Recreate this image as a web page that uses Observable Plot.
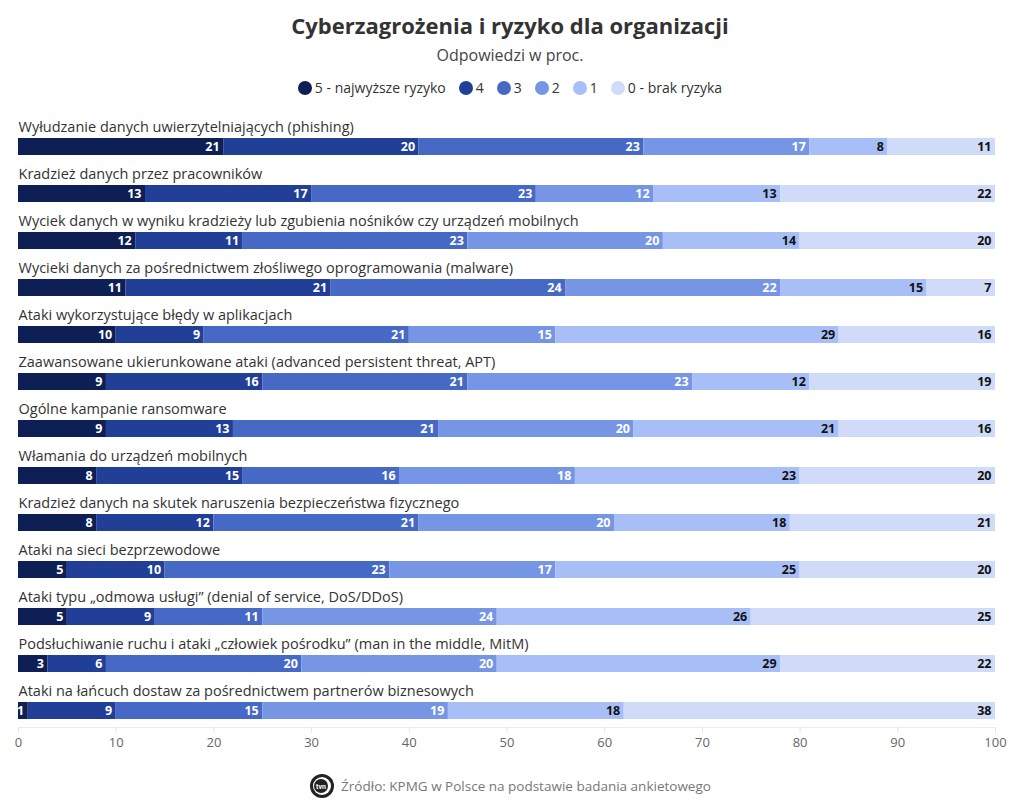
<!DOCTYPE html>
<html>
<head>
<meta charset="utf-8">
<script src="https://cdn.jsdelivr.net/npm/d3@7"></script>
<script src="https://cdn.jsdelivr.net/npm/@observablehq/plot@0.6"></script>
<style>
  body { margin: 0; background: #fff; font-family: "Open Sans", "Noto Sans", sans-serif; color: #333; }
  #wrap { width: 1020px; position: relative; }
  .title { text-align: center; font-size: 22px; font-weight: 700; color: #333; height: 24px; line-height: 24px; padding-top: 13px; }
  .subtitle { text-align: center; font-size: 16px; color: #444; height: 20px; line-height: 20px; margin-top: 8px; }
  .legend { display: flex; justify-content: center; gap: 13px; font-size: 14px; color: #333; height: 20px; line-height: 20px; margin-top: 13px; }
  .legend span.item { display: inline-flex; align-items: center; gap: 3px; }
  .legend span.dot { width: 14px; height: 14px; border-radius: 50%; display: inline-block; }
  .caption { text-align: center; font-size: 13.5px; color: #777; display: flex; justify-content: center; align-items: center; gap: 6px; margin-top: 10px; }
</style>
</head>
<body>
<div id="wrap">
  <div class="title">Cyberzagrożenia i ryzyko dla organizacji</div>
  <div class="subtitle">Odpowiedzi w proc.</div>
  <div class="legend" id="legend"></div>
  <div id="chart"></div>
  <div class="caption"><svg width="26" height="26" viewBox="0 0 26 26"><circle cx="13" cy="13" r="12" fill="#222"/><circle cx="13" cy="13" r="9" fill="#fff"/><circle cx="12" cy="13" r="7" fill="#222"/><text x="12" y="15.5" font-size="7" font-weight="700" text-anchor="middle" fill="#fff" font-family="Roboto">tvn</text></svg><span>Źródło: KPMG w Polsce na podstawie badania ankietowego</span></div>
</div>
<script>
const categories = [
  "Wyłudzanie danych uwierzytelniających (phishing)",
  "Kradzież danych przez pracowników",
  "Wyciek danych w wyniku kradzieży lub zgubienia nośników czy urządzeń mobilnych",
  "Wycieki danych za pośrednictwem złośliwego oprogramowania (malware)",
  "Ataki wykorzystujące błędy w aplikacjach",
  "Zaawansowane ukierunkowane ataki (advanced persistent threat, APT)",
  "Ogólne kampanie ransomware",
  "Włamania do urządzeń mobilnych",
  "Kradzież danych na skutek naruszenia bezpieczeństwa fizycznego",
  "Ataki na sieci bezprzewodowe",
  "Ataki typu „odmowa usługi” (denial of service, DoS/DDoS)",
  "Podsłuchiwanie ruchu i ataki „człowiek pośrodku” (man in the middle, MitM)",
  "Ataki na łańcuch dostaw za pośrednictwem partnerów biznesowych"
];
const levels = ["5 - najwyższe ryzyko", "4", "3", "2", "1", "0 - brak ryzyka"];
const colors = ["#0d1f55", "#213f97", "#4769c6", "#7695e5", "#a8bef6", "#d0dbf9"];
const risk5 = [21, 13, 12, 11, 10, 9, 9, 8, 8, 5, 5, 3, 1];
const risk4 = [20, 17, 11, 21, 9, 16, 13, 15, 12, 10, 9, 6, 9];
const risk3 = [23, 23, 23, 24, 21, 21, 21, 16, 21, 23, 11, 20, 15];
const risk2 = [17, 12, 20, 22, 15, 23, 20, 18, 20, 17, 24, 20, 19];
const risk1 = [8, 13, 14, 15, 29, 12, 21, 23, 18, 25, 26, 29, 18];
const risk0 = [11, 22, 20, 7, 16, 19, 16, 20, 21, 20, 25, 22, 38];
const xTicks = [0, 10, 20, 30, 40, 50, 60, 70, 80, 90, 100];

const series = [risk5, risk4, risk3, risk2, risk1, risk0];
const data = [];
categories.forEach((c, i) => {
  series.forEach((s, j) => data.push({cat: c, level: levels[j], li: j, value: s[i]}));
});

// legend
const leg = document.getElementById("legend");
levels.forEach((l, j) => {
  const it = document.createElement("span");
  it.className = "item";
  it.innerHTML = `<span class="dot" style="background:${colors[j]}"></span>${l}`;
  leg.appendChild(it);
});

const chart = Plot.plot({
  width: 1020,
  height: 665,
  marginTop: 17,
  marginBottom: 36,
  marginLeft: 18,
  marginRight: 25,
  style: {fontFamily: "'Open Sans', sans-serif", background: "#fff"},
  x: {domain: [0, 100], label: null},
  y: {domain: categories, padding: 0, axis: null},
  color: {domain: levels, range: colors},
  marks: [
    Plot.barX(data, Plot.stackX({y: "cat", x: "value", fill: "level", insetTop: 22, insetBottom: 8})),
    Plot.text(data, Plot.stackX2({
      y: "cat", x: "value", text: d => d.li < 4 ? String(d.value) : "", textAnchor: "end", dx: -4, dy: 7,
      fill: "#fff", fontSize: 12.5, fontWeight: 700
    })),
    Plot.text(data, Plot.stackX2({
      y: "cat", x: "value", text: d => d.li >= 4 ? String(d.value) : "", textAnchor: "end", dx: -4, dy: 7,
      fill: "#111", fontSize: 12.5, fontWeight: 700
    })),
    Plot.text(categories, {
      y: d => d, x: 0, text: d => d, textAnchor: "start", dy: -13,
      fill: "#333", fontSize: 14.5
    }),
    Plot.frame({anchor: "bottom", stroke: "#ececec"}),
    Plot.axisX({ticks: xTicks, tickSize: 6, stroke: "#e6e6e6", fill: "#666", fontSize: 13, tickPadding: 4, label: null})
  ]
});
document.getElementById("chart").appendChild(chart);
</script>
</body>
</html>
